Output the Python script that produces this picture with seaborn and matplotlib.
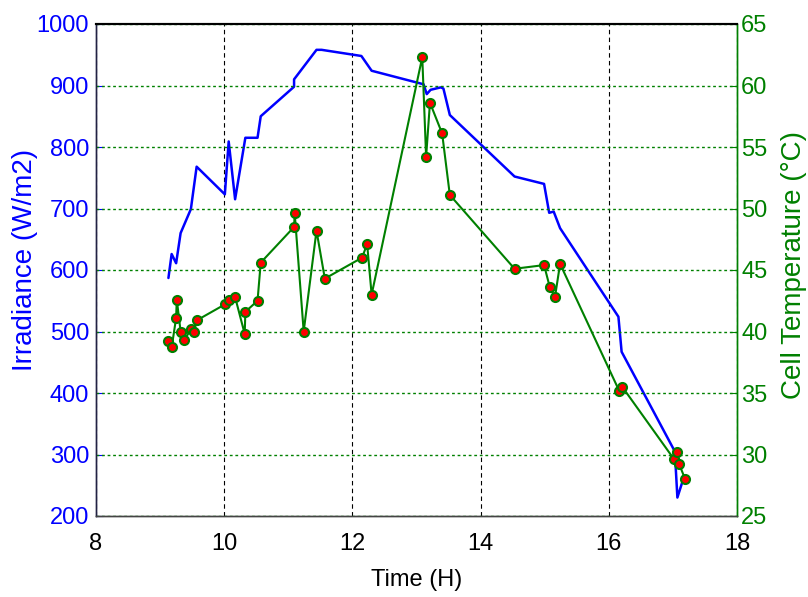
import matplotlib
matplotlib.use("Agg")
import matplotlib.pyplot as plt
import seaborn as sns
import pandas as pd

# Irradiance (blue line)
irr_time = [9.13, 9.18, 9.25, 9.32, 9.48, 9.57, 10.01, 10.07, 10.17, 10.33, 10.52, 10.57,
            11.09, 11.09, 11.44, 11.52, 12.14, 12.30, 13.11, 13.16, 13.22, 13.38, 13.42,
            13.52, 14.53, 14.99, 15.07, 15.14, 15.24, 16.15, 16.20, 17.03, 17.07, 17.14, 17.18]
irr_vals = [587, 626, 611, 660, 699, 768, 723, 809, 715, 815, 815, 850,
            898, 910, 958, 958, 948, 924, 902, 886, 893, 897, 895,
            852, 752, 740, 693, 695, 668, 524, 467, 305, 230, 253, 258]

# Cell temperature (green line with red markers)
temp_time = [9.12, 9.18, 9.25, 9.26, 9.32, 9.38, 9.48, 9.53, 9.57, 10.01, 10.07, 10.17,
             10.32, 10.33, 10.52, 10.57, 11.09, 11.10, 11.24, 11.44, 11.57, 12.15, 12.23,
             12.30, 13.09, 13.15, 13.21, 13.40, 13.52, 14.53, 14.99, 15.08, 15.16, 15.24,
             16.16, 16.21, 17.02, 17.07, 17.10, 17.19]
temp_vals = [39.2, 38.7, 41.1, 42.6, 40.0, 39.3, 40.2, 40.0, 40.9, 42.2, 42.6, 42.8,
             39.8, 41.6, 42.5, 45.6, 48.5, 49.6, 40.0, 48.2, 44.3, 46.0, 47.1,
             43.0, 62.3, 54.2, 58.6, 56.1, 51.1, 45.1, 45.4, 43.6, 42.8, 45.5,
             35.2, 35.5, 29.6, 30.2, 29.2, 28.0]

x_ticks = [8, 10, 12, 14, 16, 18]
irr_ticks = [200, 300, 400, 500, 600, 700, 800, 900, 1000]
temp_ticks = [25, 30, 35, 40, 45, 50, 55, 60, 65]

BLUE = "#0000FF"
GREEN = "#008000"

sns.set_style("white")
plt.rcParams["font.family"] = ["Liberation Sans", "DejaVu Sans"]

df_irr = pd.DataFrame({"t": irr_time, "v": irr_vals})
df_tmp = pd.DataFrame({"t": temp_time, "v": temp_vals})

fig = plt.figure(figsize=(8.08, 5.97), dpi=100)
ax1 = fig.add_axes([96 / 808, 1 - 516 / 597, (737 - 96) / 808, (516 - 24) / 597])
ax2 = ax1.twinx()

sns.lineplot(data=df_irr, x="t", y="v", ax=ax1, color=BLUE, linewidth=1.8,
             sort=False, estimator=None)
sns.lineplot(data=df_tmp, x="t", y="v", ax=ax2, color=GREEN, linewidth=1.5,
             sort=False, estimator=None, marker="o", markersize=6.5,
             markerfacecolor="red", markeredgecolor=GREEN, markeredgewidth=1.5)

ax1.set_xlim(8, 18)
ax1.set_ylim(200, 1000)
ax2.set_ylim(25, 65)
ax1.set_xticks(x_ticks)
ax1.set_yticks(irr_ticks)
ax2.set_yticks(temp_ticks)
ax1.set_xticklabels([str(v) for v in x_ticks])
ax1.set_yticklabels([str(v) for v in irr_ticks])
ax2.set_yticklabels([str(v) for v in temp_ticks])

# grids
ax1.xaxis.grid(True, color="black", linestyle=(0, (4, 3)), linewidth=0.8)
ax1.yaxis.grid(False)
ax2.yaxis.grid(True, color=GREEN, linestyle=(0, (2, 2)), linewidth=1.0)
ax2.xaxis.grid(False)
ax1.set_axisbelow(True)

ax1.tick_params(axis="x", direction="in", length=5, colors="black", labelsize=17, pad=12)
ax1.tick_params(axis="y", direction="in", length=5, colors=BLUE, labelsize=17, pad=5)
ax2.tick_params(axis="y", direction="in", length=5, colors=GREEN, labelsize=17, pad=3)

for ax in (ax1, ax2):
    for s in ax.spines.values():
        s.set_linewidth(1.0)
        s.set_visible(True)
for ax in (ax1, ax2):
    ax.spines["top"].set_color("black")
    ax.spines["top"].set_linewidth(1.5)
    ax.spines["bottom"].set_color("#444444")
    ax.spines["left"].set_color("#222244")
    ax.spines["right"].set_color(GREEN)

ax1.set_xlabel("Time (H)", fontsize=17, color="black", labelpad=10)
ax1.set_ylabel("Irradiance (W/m2)", fontsize=20, color=BLUE)
ax2.set_ylabel("Cell Temperature (°C)", fontsize=20, color=GREEN)
ax1.yaxis.set_label_coords((38 - 96) / 641, 0.52)
ax2.yaxis.set_label_coords((781 - 96) / 641, 0.51)

fig.savefig("out.png", dpi=100)
